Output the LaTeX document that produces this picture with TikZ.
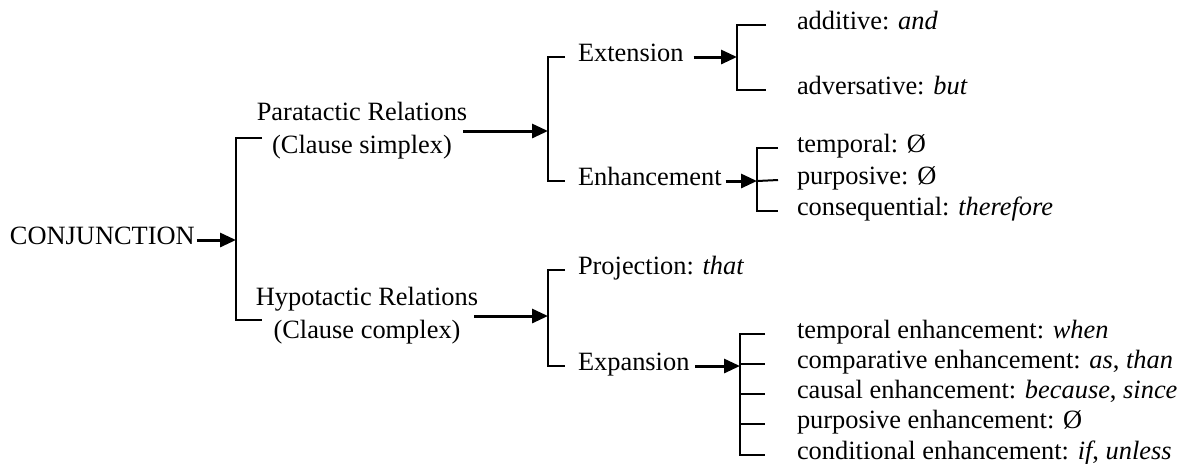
\documentclass[tikz,border=0pt]{standalone}
\usepackage{fontspec}
\setmainfont{Liberation Serif}[ItalicFont={Liberation Serif Italic}]
\usetikzlibrary{arrows.meta}
\begin{document}
\begin{tikzpicture}[x=0.5pt,y=-0.5pt,
  lbl/.style={inner sep=0pt, outer sep=0pt, font=\fontsize{13.2}{16.5}\selectfont, text height=0.68em, text depth=0.22em, anchor=west},
  two/.style={inner sep=0pt, outer sep=0pt, font=\fontsize{13.2}{16.5}\selectfont, align=center, anchor=center},
  brk/.style={line width=1pt},
  arr/.style={line width=1.5pt, -{Triangle[length=8pt,width=7pt]}}
]
\useasboundingbox (0,0) rectangle (1181,463);
% nodes
\node[lbl] (conj) at (10,240) {CONJUNCTION};
\node[two] (para) at (362,131) {Paratactic Relations\\(Clause simplex)};
\node[two] (hyp) at (367,316) {Hypotactic Relations\\(Clause complex)};
\node[lbl] (ext) at (578,57) {Extension};
\node[lbl] (enh) at (578,181) {Enhancement};
\node[lbl] (proj) at (578,270) {Projection: \textit{that}};
\node[lbl] (expn) at (578,366) {Expansion};
\node[lbl] (add) at (797,25) {additive: \textit{and}};
\node[lbl] (adv) at (797,90) {adversative: \textit{but}};
\node[lbl] (tmp) at (797,148) {temporal: Ø};
\node[lbl] (pur) at (797,180) {purposive: Ø};
\node[lbl] (cns) at (797,211) {consequential: \textit{therefore}};
\node[lbl] (ea) at (797,334) {temporal enhancement: \textit{when}};
\node[lbl] (eb) at (797,364) {comparative enhancement: \textit{as}, \textit{than}};
\node[lbl] (ec) at (797,394) {causal enhancement: \textit{because}, \textit{since}};
\node[lbl] (ed) at (797,424) {purposive enhancement: Ø};
\node[lbl] (ee) at (797,455) {conditional enhancement: \textit{if}, \textit{unless}};
% junction coordinates
\coordinate (j1) at (236,240);
\coordinate (j2) at (548,131);
\coordinate (j3) at (737,57);
\coordinate (j4) at (757,181);
\coordinate (j5) at (548,316);
\coordinate (j6) at (740,366);
% bracket 1
\draw[brk] (262,138) -- (236,138) -- (236,320) -- (262,320);
% bracket 2
\draw[brk] ([xshift=-6.5pt]ext.west) -| (j2) |- ([xshift=-6.5pt]enh.west);
% bracket 3
\draw[brk] ([xshift=-15.5pt]add.west) -| (j3) |- ([xshift=-15.5pt]adv.west);
% bracket 4
\draw[brk] ([xshift=-9.5pt]tmp.west) -| (j4) |- ([xshift=-9.5pt]cns.west);
\draw[brk] (j4) -- ([xshift=-9.5pt]pur.west);
% bracket 5
\draw[brk] ([xshift=-6.5pt]proj.west) -| (j5) |- ([xshift=-6.5pt]expn.west);
% bracket 6
\draw[brk] ([xshift=-16pt]ea.west) -| (j6) |- ([xshift=-16pt]ee.west);
\draw[brk] (j6 |- eb.west) -- ([xshift=-16pt]eb.west);
\draw[brk] (j6 |- ec.west) -- ([xshift=-16pt]ec.west);
\draw[brk] (j6 |- ed.west) -- ([xshift=-16pt]ed.west);
% arrows
\draw[arr] ([xshift=1pt]conj.east) -- (j1);
\draw[arr] ([xshift=-2pt]para.east) -- (j2);
\draw[arr] ([xshift=-2pt]hyp.east) -- (j5);
\draw[arr] ([xshift=5pt]ext.east) -- (j3);
\draw[arr] ([xshift=2pt]enh.east) -- (j4);
\draw[arr] ([xshift=3pt]expn.east) -- (j6);
\end{tikzpicture}
\end{document}
